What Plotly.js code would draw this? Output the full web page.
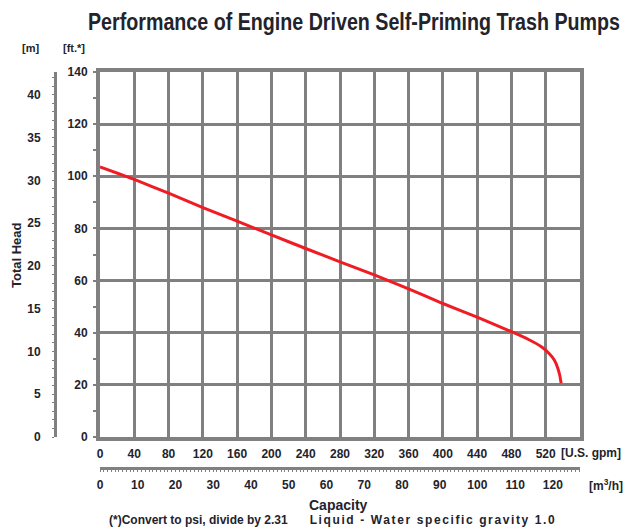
<!DOCTYPE html>
<html>
<head>
<meta charset="utf-8">
<script src="https://cdn.plot.ly/plotly-3.0.1.min.js"></script>
<style>html,body{margin:0;padding:0;background:#fff;}#chart{width:631px;height:529px;}</style>
</head>
<body>
<div id="chart"></div>
<script>
// Pump curve (capacity in U.S. gpm, total head in ft)
const capacityGpm = [0, 40, 80, 120, 160, 200, 240, 280, 320, 360, 400, 440, 480, 500, 515, 524, 530, 534, 536.5, 538];
const headFt      = [103.6, 98.8, 93.5, 88, 82.8, 77.5, 72.3, 67.2, 62.2, 56.8, 51.2, 46, 40.4, 37.4, 34.6, 32, 29.5, 26.5, 23.5, 20.6];

// Tick labels
const gpmTicks  = [0, 40, 80, 120, 160, 200, 240, 280, 320, 360, 400, 440, 480, 520];
const ftTicks   = [0, 20, 40, 60, 80, 100, 120, 140];
const mTicks    = [0, 5, 10, 15, 20, 25, 30, 35, 40];
const m3hTicks  = [0, 10, 20, 30, 40, 50, 60, 70, 80, 90, 100, 110, 120];

const GPM_MAX = 560, FT_MAX = 140;
const FT_PER_M = 3.2808, GPM_PER_M3H = 4.4029;

const gray = '#808080';
const txt = '#23232b';
const fam = 'Liberation Sans, Arial, Helvetica, sans-serif';
const tickFont = {family: fam, size: 12, color: txt, weight: 'bold'};

const traces = [
  {x: capacityGpm, y: headFt, type: 'scatter', mode: 'lines',
   line: {color: '#f01c24', width: 3, shape: 'spline', smoothing: 0.4},
   xaxis: 'x', yaxis: 'y', hoverinfo: 'skip', showlegend: false},
  {x: [null], y: [null], type: 'scatter', mode: 'lines', xaxis: 'x2', yaxis: 'y2',
   hoverinfo: 'skip', showlegend: false}
];

const L = 20, R = 51, T = 72, B = 40, W = 631, H = 529;
const pw = W - L - R, ph = H - T - B;
const xd0 = (100 - L) / pw;
const yd0 = ((H - B) - 437) / ph;

const layout = {
  width: W, height: H,
  margin: {l: L, r: R, t: T, b: B, pad: 0},
  paper_bgcolor: '#fff', plot_bgcolor: '#fff',
  showlegend: false,
  title: {text: 'Performance of Engine Driven Self-Priming Trash Pumps',
          font: {family: fam, size: 23, color: txt, weight: 'bold'},
          xref: 'container', yref: 'container', x: 354 / W, y: 1 - 22 / H, xanchor: 'center', yanchor: 'middle'},
  xaxis: {domain: [xd0, 1], range: [0, GPM_MAX], tickvals: gpmTicks, ticktext: gpmTicks.map(String),
          showgrid: true, gridcolor: gray, gridwidth: 3, dtick: 40,
          showline: true, linecolor: gray, linewidth: 4, mirror: true, zeroline: false,
          ticks: '', tickfont: tickFont, ticklabelstandoff: 3, anchor: 'y', fixedrange: true},
  yaxis: {domain: [yd0, 1], range: [0, FT_MAX], tickvals: ftTicks, ticktext: ftTicks.map(String),
          showgrid: true, gridcolor: gray, gridwidth: 3,
          showline: true, linecolor: gray, linewidth: 4, mirror: true, zeroline: false,
          ticks: '', tickfont: tickFont, ticklabelstandoff: 6, anchor: 'x',
          minor: {dtick: 10, ticks: 'outside', ticklen: 3, tickwidth: 2, tickcolor: gray, showgrid: false},
          fixedrange: true},
  xaxis2: {overlaying: 'x', anchor: 'free', position: ((H - B) - 468) / ph, side: 'bottom',
           domain: [xd0, 1], range: [0, GPM_MAX / GPM_PER_M3H], tickvals: m3hTicks, ticktext: m3hTicks.map(String),
           showgrid: false, zeroline: false, showline: true, linecolor: gray, linewidth: 3,
           ticks: '', tickfont: tickFont, ticklabelstandoff: 5,
           minor: {dtick: 1, ticks: 'outside', ticklen: 2, tickwidth: 1, tickcolor: gray, showgrid: false},
           fixedrange: true},
  yaxis2: {overlaying: 'y', anchor: 'free', position: (55 - L) / pw, side: 'left',
           domain: [yd0, 1], range: [0, FT_MAX / FT_PER_M], tickvals: mTicks, ticktext: mTicks.map(String),
           showgrid: false, zeroline: false, showline: true, linecolor: gray, linewidth: 3,
           ticks: '', tickfont: tickFont, ticklabelstandoff: 11,
           minor: {dtick: 1, ticks: 'outside', ticklen: 2, tickwidth: 1, tickcolor: gray, showgrid: false},
           fixedrange: true},
  annotations: [
    {text: '[m]', x: 30 / W, y: 1 - 48 / H},
    {text: '[ft.*]', x: 74 / W, y: 1 - 48 / H},
    {text: '[U.S. gpm]', x: 591 / W, y: 1 - 453 / H, size: 12},
    {text: '[m<sup>3</sup>/h]', x: 606 / W, y: 1 - 485 / H, size: 12},
    {text: 'Capacity', x: 338 / W, y: 1 - 505 / H, size: 14},
    {text: '(*)Convert to psi, divide by 2.31', x: 198 / W, y: 1 - 520 / H, size: 12},
    {text: 'Liquid - Water specific gravity 1.0', x: 432 / W, y: 1 - 520 / H, size: 12},
    {text: 'Total Head', x: 17 / W, y: 1 - 255 / H, size: 13, textangle: -90}
  ].map(a => ({
    text: a.text, x: a.x, y: a.y, xref: 'paper', yref: 'paper', showarrow: false,
    xanchor: 'center', yanchor: 'middle', textangle: a.textangle || 0,
    font: {family: fam, size: a.size || 11, color: txt, weight: 'bold'}
  }))
};
// annotations given as pixel positions -> convert to paper coords of plot area
layout.annotations.forEach(a => {
  const px = a.x * W, py = (1 - a.y) * H;
  a.x = (px - L) / pw;
  a.y = ((H - B) - py) / ph;
});

Plotly.newPlot('chart', traces, layout, {displayModeBar: false, staticPlot: true}).then(gd => {
  // condensed look for the title (no condensed font installed)
  const t = gd.querySelector('.gtitle');
  if (t) { t.setAttribute('textLength', '532'); t.setAttribute('lengthAdjust', 'spacingAndGlyphs'); }
  // wider spacing of the second footnote as in the reference
  gd.querySelectorAll('.annotation-text').forEach(el => {
    if (el.textContent.indexOf('Liquid') === 0) {
      el.setAttribute('textLength', '245'); el.setAttribute('lengthAdjust', 'spacing');
    }
  });
});
</script>
</body>
</html>
